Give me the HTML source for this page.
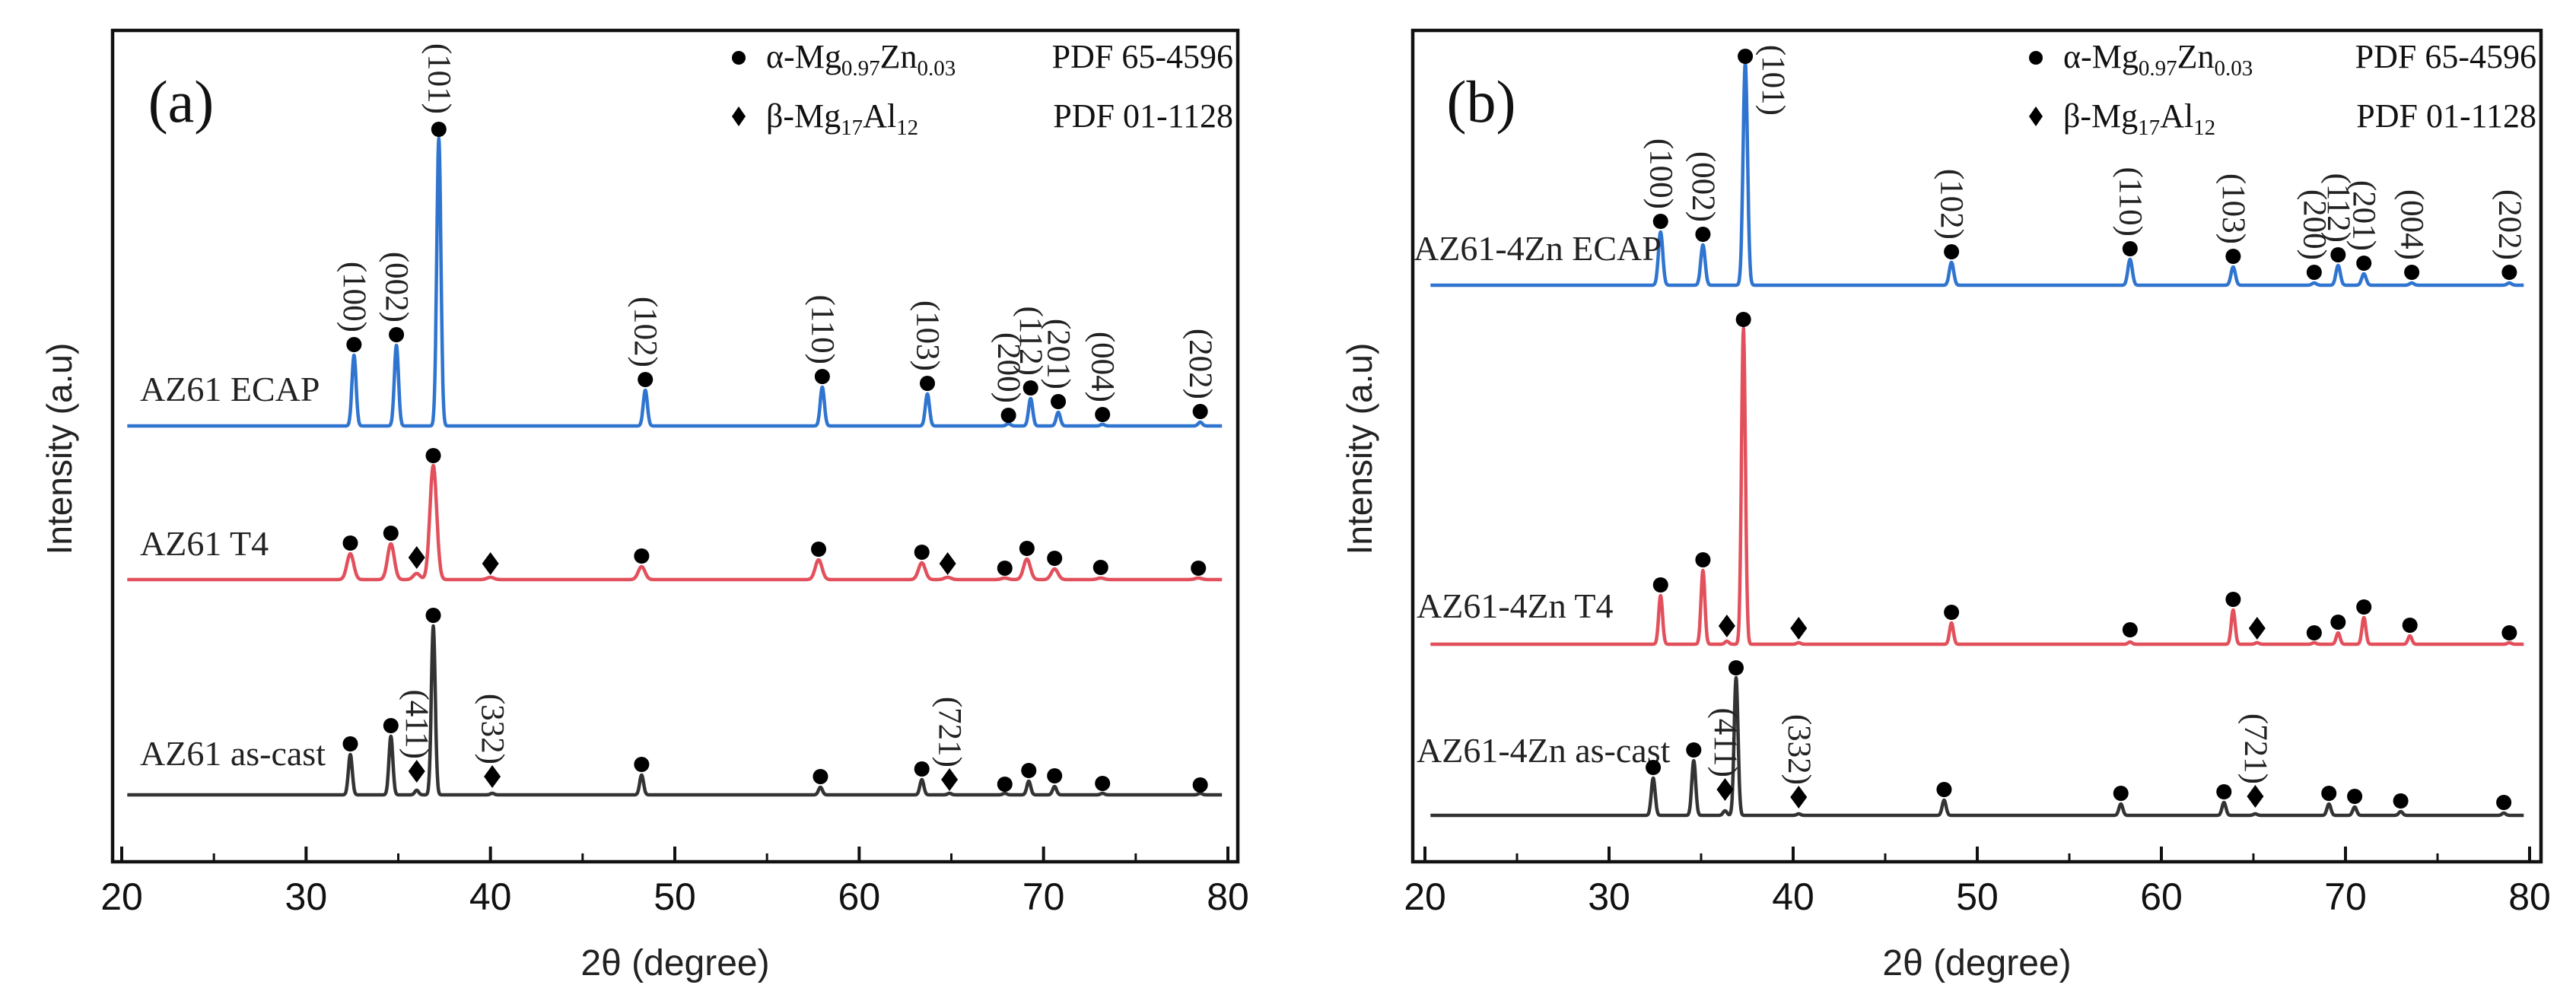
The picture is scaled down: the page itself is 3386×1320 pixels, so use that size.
<!DOCTYPE html>
<html><head><meta charset="utf-8">
<style>
html,body{margin:0;padding:0;background:#fff;}
svg{display:block;}
.serif{font-family:"Liberation Serif",serif;}
.sans{font-family:"Liberation Sans",sans-serif;}
</style></head>
<body>
<svg id="chart" width="3386" height="1320" viewBox="0 0 3386 1320" xmlns="http://www.w3.org/2000/svg">
<rect x="0" y="0" width="3386" height="1320" fill="#fff"/>
</svg>
<script>
// ---- data (2theta in degrees, intensities in a.u. above each curve's baseline) ----
const xTicks = [20, 30, 40, 50, 60, 70, 80];
const hkl = ["(100)","(002)","(101)","(102)","(110)","(103)","(200)","(112)","(201)","(004)","(202)"];
// Panel a
const aEcapPos = [32.6, 34.9, 37.2, 48.4, 58.0, 63.7, 68.1, 69.3, 70.8, 73.2, 78.5];
const aEcapPeak = [93, 106, 378, 47, 51, 42, 3, 36, 18, 2, 5];
const aEcapMark = [107, 120, 390, 61, 65, 56, 14, 50, 32, 15, 19];
const aT4Pos = [32.4, 34.6, 36.0, 36.9, 40.0, 48.2, 57.8, 63.4, 64.8, 67.9, 69.1, 70.6, 73.1, 78.4];
const aT4Peak = [34, 47, 8, 150, 3, 17, 26, 22, 3, 2, 27, 14, 2, 2];
const aT4Mark = [48, 61, 29, 163, 21, 31, 40, 36, 21, 15, 41, 28, 16, 15];
const aT4Type = ["a","a","b","a","b","a","a","a","b","a","a","a","a","a"];
const aCastPos = [32.4, 34.6, 36.0, 36.9, 40.1, 48.2, 57.9, 63.4, 64.9, 67.9, 69.2, 70.6, 73.2, 78.5];
const aCastPeak = [53, 77, 6, 222, 2, 26, 10, 20, 2, 2, 18, 11, 2, 2];
const aCastMark = [67, 91, 31, 236, 24, 40, 24, 34, 20, 14, 32, 25, 15, 13];
const aCastType = ["a","a","b","a","b","a","a","a","b","a","a","a","a","a"];
// Panel b
const bEcapPos = [32.8, 35.1, 37.4, 48.6, 58.3, 63.9, 68.3, 69.6, 71.0, 73.6, 78.9];
const bEcapPeak = [70, 53, 292, 30, 34, 24, 3, 26, 15, 3, 3];
const bEcapMark = [84, 67, 301, 44, 48, 38, 17, 40, 29, 17, 17];
const bT4Pos = [32.8, 35.1, 36.4, 37.3, 40.3, 48.6, 58.3, 63.9, 65.2, 68.3, 69.6, 71.0, 73.5, 78.9];
const bT4Peak = [64, 97, 4, 415, 2, 28, 3, 45, 2, 2, 15, 35, 11, 2];
const bT4Mark = [78, 111, 24, 427, 21, 42, 19, 59, 21, 15, 29, 49, 25, 15];
const bT4Type = ["a","a","b","a","b","a","a","a","b","a","a","a","a","a"];
const bCastPos = [32.4, 34.6, 36.3, 36.9, 40.3, 48.2, 57.8, 63.4, 65.1, 69.1, 70.5, 73.0, 78.6];
const bCastPeak = [49, 72, 6, 181, 2, 20, 15, 17, 2, 15, 11, 5, 3];
const bCastMark = [63, 86, 34, 194, 24, 34, 29, 31, 25, 29, 25, 19, 17];
const bCastType = ["a","a","b","a","b","a","a","a","b","a","a","a","a"];
const betaLabels = ["(411)","(332)","(721)"];

const NS = "http://www.w3.org/2000/svg";
const svg = document.getElementById("chart");
function mk(tag, attrs, parent){
  const e = document.createElementNS(NS, tag);
  for (const k in attrs) e.setAttribute(k, attrs[k]);
  (parent||svg).appendChild(e);
  return e;
}

function panel(cfg){
  const g = mk("g", {});
  
  
  const X = v => cfg.x20 + (v - 20) * (cfg.x80 - cfg.x20) / 60;
  const fr = mk("rect", {x:cfg.left, y:40, width:cfg.right-cfg.left, height:1133-40, fill:"none", stroke:"#111", "stroke-width":4.5}, g);
  
  
  for (let v = 20; v <= 80; v += 5){
    const major = v % 10 === 0;
    const t = mk("line", {x1:X(v), x2:X(v), y1:1133, y2:1133-(major?20:11), stroke:"#111", "stroke-width":major?4:3}, g);
    
    
  }
  xTicks.forEach(v => {
    const tl = mk("text", {x:X(v), y:1196, "text-anchor":"middle", class:"sans", "font-size":50, fill:"#111"}, g);
    tl.textContent = v;
    
    
  });
  const xt = mk("text", {x:(cfg.left+cfg.right)/2, y:1282, "text-anchor":"middle", class:"sans", "font-size":48, fill:"#222"}, g);
  xt.textContent = "2θ (degree)";
  
  
  const yt = mk("text", {transform:`translate(${cfg.left-70},590) rotate(-90)`, "text-anchor":"middle", class:"sans", "font-size":46, fill:"#222", "dominant-baseline":"central"}, g);
  yt.textContent = "Intensity (a.u)";
  
  
  const pl = mk("text", {x:cfg.left+90, y:160, "text-anchor":"middle", class:"serif", "font-size":78, fill:"#111"}, g);
  pl.textContent = cfg.tag;
  
  
  const lx = cfg.legX;
  const ld = mk("circle", {cx:lx, cy:76, r:9, fill:"#000"}, g);
  
  
  const l1 = mk("text", {x:lx+36, y:89, class:"serif", "font-size":44, fill:"#111"}, g);
  l1.innerHTML = 'α-Mg<tspan font-size="29" dy="10">0.97</tspan><tspan dy="-10">Zn</tspan><tspan font-size="29" dy="10">0.03</tspan>';
  
  
  const l1b = mk("text", {x:cfg.right-6, y:89, "text-anchor":"end", class:"serif", "font-size":44, fill:"#111"}, g);
  l1b.textContent = "PDF 65-4596";
  
  
  const dm = mk("path", {d:`M${lx} ${153-13} L${lx+9} 153 L${lx} ${153+13} L${lx-9} 153 Z`, fill:"#000"}, g);
  
  
  const l2 = mk("text", {x:lx+36, y:167, class:"serif", "font-size":44, fill:"#111"}, g);
  l2.innerHTML = 'β-Mg<tspan font-size="29" dy="10">17</tspan><tspan dy="-10">Al</tspan><tspan font-size="29" dy="10">12</tspan>';
  
  
  const l2b = mk("text", {x:cfg.right-6, y:167, "text-anchor":"end", class:"serif", "font-size":44, fill:"#111"}, g);
  l2b.textContent = "PDF 01-1128";
  
  

  cfg.series.forEach(s => {
    const Y = v => s.base - v;
    let d = "";
    for (let t = 20.3; t <= 79.7; t += 0.02){
      let v = 0;
      s.pos.forEach((p, i) => {
        const dx = (t - p) / s.width;
        v += s.peak[i] * Math.exp(-dx*dx);
      });
      d += (d ? " L" : "M") + X(t).toFixed(1) + " " + Y(v).toFixed(1);
    }
    const line = mk("path", {d:d, fill:"none", stroke:s.color, "stroke-width":4.5, "stroke-linejoin":"round"}, g);
    
    
    const sl = mk("text", {x:s.labelX, y:s.labelY, class:"serif", "font-size":46, fill:"#222"}, g);
    sl.textContent = s.label;
    
    
    let bi = 0;
    s.pos.forEach((p, i) => {
      const type = s.type ? s.type[i] : "a";
      const cx = X(p), cy = Y(s.mark[i]);
      let m;
      if (type === "a") m = mk("circle", {cx:cx, cy:cy, r:10, fill:"#000"}, g);
      else m = mk("path", {d:`M${cx} ${cy-15} L${cx+11} ${cy} L${cx} ${cy+15} L${cx-11} ${cy} Z`, fill:"#000"}, g);
      
      
      let txt = null;
      if (s.hkl) txt = hkl[i];
      if (s.beta && type === "b" && bi < betaLabels.length){ txt = betaLabels[bi]; }
      if (type === "b") bi++;
      if (txt){
        let lx2 = cx, ly = cy - 16;
        if (s.hkl && i === 2 && s.topLabelRight){ lx2 = X(p + 1.5); ly = 152; }
        else if (s.hkl && i === 2){ ly = cy - 20; }
        const ht = mk("text", {transform:`translate(${lx2},${ly}) rotate(90)`, "text-anchor":"end", "dominant-baseline":"central", class:"serif", "font-size":43, fill:"#222"}, g);
        ht.textContent = txt;
        
        
      }
    });
  });
}

panel({name:"panel-a", tag:"(a)", left:148, right:1627, x20:160, x80:1614, legX:971,
  series:[
    {name:"az61-ecap", label:"AZ61 ECAP", labelX:184, labelY:527, base:560, color:"#2f74cf", width:0.16, pos:aEcapPos, peak:aEcapPeak, mark:aEcapMark, hkl:true},
    {name:"az61-t4", label:"AZ61 T4", labelX:184, labelY:730, base:762, color:"#e2505c", width:0.26, pos:aT4Pos, peak:aT4Peak, mark:aT4Mark, type:aT4Type},
    {name:"az61-as-cast", label:"AZ61 as-cast", labelX:184, labelY:1006, base:1045, color:"#333", width:0.15, pos:aCastPos, peak:aCastPeak, mark:aCastMark, type:aCastType, beta:true}
  ]});
panel({name:"panel-b", tag:"(b)", left:1857, right:3340, x20:1873, x80:3325, legX:2676,
  series:[
    {name:"az61-4zn-ecap", label:"AZ61-4Zn ECAP", labelX:1858, labelY:342, base:375, color:"#2f74cf", width:0.17, pos:bEcapPos, peak:bEcapPeak, mark:bEcapMark, hkl:true, topLabelRight:true},
    {name:"az61-4zn-t4", label:"AZ61-4Zn T4", labelX:1862, labelY:812, base:847, color:"#e2505c", width:0.15, pos:bT4Pos, peak:bT4Peak, mark:bT4Mark, type:bT4Type},
    {name:"az61-4zn-as-cast", label:"AZ61-4Zn as-cast", labelX:1862, labelY:1002, base:1072, color:"#333", width:0.15, pos:bCastPos, peak:bCastPeak, mark:bCastMark, type:bCastType, beta:true}
  ]});
</script>
</body></html>
